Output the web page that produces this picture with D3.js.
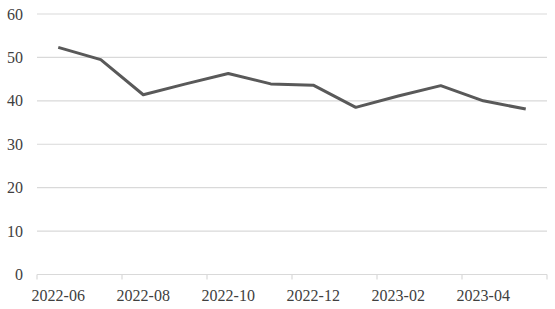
<!DOCTYPE html>
<html><head><meta charset="utf-8">
<script src="https://cdn.jsdelivr.net/npm/d3@7"></script>
<style>body{margin:0;background:#fff}svg{display:block}</style>
</head><body>
<svg id="c" width="555" height="309"></svg>
<script>
const months = ["2022-06","2022-07","2022-08","2022-09","2022-10","2022-11","2022-12","2023-01","2023-02","2023-03","2023-04","2023-05"];
const values = [52.3,49.5,41.4,43.9,46.3,43.9,43.6,38.5,41.1,43.5,40.0,38.1];
const yTicks = [0,10,20,30,40,50,60];
const xLabels = ["2022-06","2022-08","2022-10","2022-12","2023-02","2023-04"];

const svg = d3.select("#c");
const m = {l:37, r:8, t:14, b:34.5};
const W = 555, H = 309;
const x = d3.scaleBand().domain(months).range([m.l, W - m.r]).padding(0);
const y = d3.scaleLinear().domain([0,60]).range([H - m.b, m.t]);
const font = "'Liberation Serif','DejaVu Serif',serif";

// gridlines
svg.append("g").selectAll("line").data(yTicks.filter(d=>d>0)).join("line")
  .attr("x1", m.l).attr("x2", W - m.r)
  .attr("y1", d=>y(d)).attr("y2", d=>y(d))
  .attr("stroke", "#d9d9d9").attr("stroke-width", 1.2);

// y labels
svg.append("g").selectAll("text").data(yTicks).join("text")
  .attr("x", 23).attr("y", d=>y(d)).attr("dy","0.35em")
  .attr("text-anchor","end").attr("font-family", font).attr("font-size", 16)
  .attr("fill","#404040").text(d=>d);

// x axis
const xAxisG = svg.append("g").attr("transform", `translate(0,${y(0)})`);
xAxisG.append("line").attr("x1", m.l).attr("x2", W - m.r).attr("stroke","#d9d9d9").attr("stroke-width",1.2);
const tickMonths = months.filter((d,i)=>i%2===0);
const tickPos = tickMonths.map(d=>x(d)).concat([x(months[months.length-1]) + x.bandwidth()]);
xAxisG.selectAll("line.t").data(tickPos).join("line").attr("class","t")
  .attr("x1", d=>d).attr("x2", d=>d).attr("y1",0).attr("y2",5)
  .attr("stroke","#d9d9d9").attr("stroke-width",1.2);
xAxisG.selectAll("text").data(xLabels).join("text")
  .attr("x", d=>x(d) + x.bandwidth()/2).attr("y", 26)
  .attr("text-anchor","middle").attr("font-family", font).attr("font-size", 16)
  .attr("fill","#404040").text(d=>d);

// line
const line = d3.line().x((d,i)=>x(months[i]) + x.bandwidth()/2).y(d=>y(d));
svg.append("path").datum(values).attr("d", line)
  .attr("fill","none").attr("stroke","#595959").attr("stroke-width",3)
  .attr("stroke-linejoin","round");
</script>
</body></html>
